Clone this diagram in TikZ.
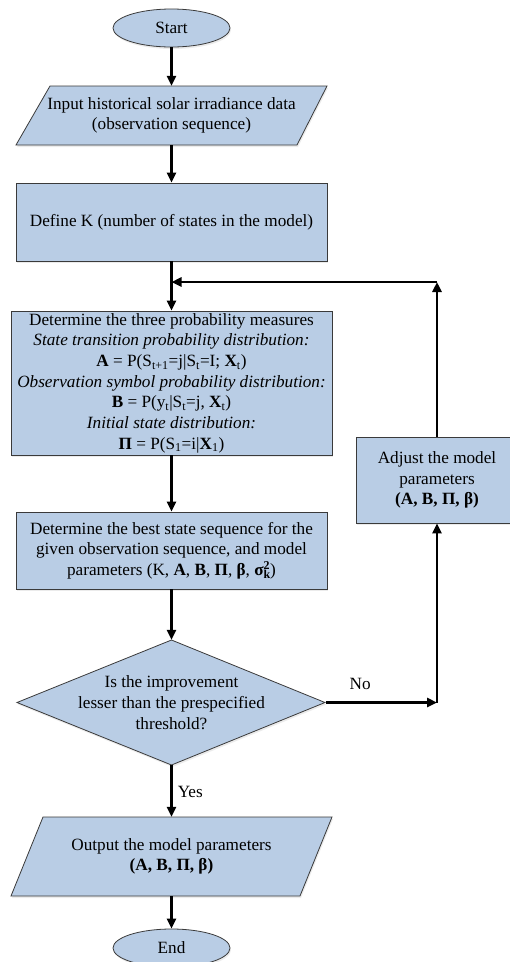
\documentclass[tikz,border=0pt]{standalone}
\usepackage{fontspec}
\setmainfont{Liberation Serif}
\usetikzlibrary{shapes.geometric,arrows.meta,shadows}
\definecolor{boxfill}{HTML}{B9CDE5}
\definecolor{boxline}{HTML}{3A3A3A}
\tikzset{
  softshadow/.style={drop shadow={opacity=0.13,shadow xshift=1pt,shadow yshift=-2pt,fill=black!60}},
  flowtext/.style={align=center,font=\fontsize{17.2}{20.7}\selectfont,inner sep=0pt},
  procbox/.style={flowtext,draw=boxline,line width=0.8pt,fill=boxfill,softshadow},
  ghost/.style={flowtext,draw=none},
  termnode/.style={procbox,ellipse,minimum width=117pt,minimum height=38pt},
  shapeline/.style={draw=boxline,line width=0.8pt,fill=boxfill,softshadow},
  flow/.style={line width=2.6pt,-{Triangle[length=10pt,width=9pt]}}
}
\begin{document}
\begin{tikzpicture}[x=1pt,y=-1pt]
\useasboundingbox (0,0) rectangle (510,962);
\clip (0,0) rectangle (510,962);

% start terminator
\node[termnode] (start) at (171.5,28) {Start};

% input parallelogram
\draw[shapeline] (50,86) -- (327,86) -- (297,145) -- (16,145) -- cycle;
\node[ghost,minimum width=280pt,minimum height=59pt] (in) at (171.5,115.5)
  {Input historical solar irradiance data\\(observation sequence)};

% process boxes
\node[procbox,minimum width=311pt,minimum height=78pt] (def) at (171.5,222)
  {Define K (number of states in the model)};

\node[procbox,minimum width=321pt,minimum height=144pt] (det) at (171.5,383)
  {Determine the three probability measures\\
   \textit{State transition probability distribution:}\\
   \textbf{A} = P(S\textsubscript{t+1}=j|S\textsubscript{t}=I; \textbf{X}\textsubscript{t})\\
   \textit{Observation symbol probability distribution:}\\
   \textbf{B} = P(y\textsubscript{t}|S\textsubscript{t}=j, \textbf{X}\textsubscript{t})\\
   \textit{Initial state distribution:}\\
   \textbf{Π} = P(S\textsubscript{1}=i|\textbf{X}\textsubscript{1})};

\node[procbox,minimum width=311pt,minimum height=77pt] (best) at (171.5,550.5)
  {Determine the best state sequence for the\\
   given observation sequence, and model\\
   parameters (K, \textbf{A}, \textbf{B}, \textbf{Π}, \textbf{β}, \textbf{σ}\rlap{\textsubscript{\textbf{k}}}\textsuperscript{\textbf{2}})};

% decision diamond
\draw[shapeline] (171.5,640) -- (325,702.5) -- (171.5,765) -- (17,702.5) -- cycle;
\node[ghost,minimum width=308pt,minimum height=125pt] (dec) at (171.5,702.5)
  {Is the improvement\\lesser than the prespecified\\threshold?};

\node[procbox,minimum width=162pt,minimum height=86pt] (adj) at (437,480)
  {Adjust the model\\parameters\\\textbf{(A, B, Π, β)}};

% output parallelogram
\draw[shapeline] (43,817) -- (332,817) -- (300,896) -- (11,896) -- cycle;
\node[ghost,minimum width=290pt,minimum height=79pt] (out) at (171.5,856.5)
  {Output the model parameters\\\textbf{(A, B, Π, β)}};

% end terminator
\node[termnode] (end) at (171.5,948) {End};

% connector bends
\coordinate (cnr) at (437,702.5);
\coordinate (top) at (437,282);
\coordinate (join) at (def.south |- top);

% main flow
\draw[flow] (start.south) -- (in.north);
\draw[flow] (in.south) -- (def.north);
\draw[flow] (def.south) -- (det.north);
\draw[flow] (det.south) -- (best.north);
\draw[flow] (best.south) -- (dec.north);
\draw[flow] (dec.south) -- node[right,flowtext,xshift=5pt,yshift=-1pt]{Yes} (out.north);
\draw[flow] (out.south) -- (end.north);

% feedback loop
\draw[flow] (dec.east) -- node[pos=0.31,above,flowtext,yshift=12pt]{No} (cnr);
\draw[flow] (cnr) -- (adj.south);
\draw[flow] (adj.north) -- (top);
\draw[flow] (top) -- (join);
\end{tikzpicture}
\end{document}
